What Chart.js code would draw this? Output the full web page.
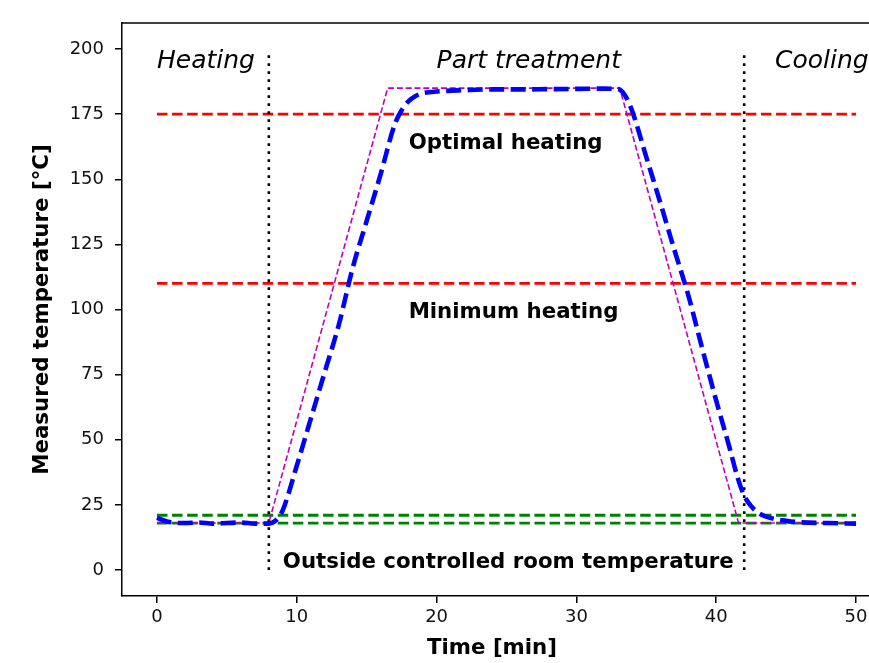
<!DOCTYPE html>
<html>
<head>
<meta charset="utf-8">
<script src="https://cdn.jsdelivr.net/npm/chart.js@4.4.1/dist/chart.umd.min.js"></script>
<style>
  html, body { margin: 0; padding: 0; overflow: hidden; background: #fff; }
  #wrap { position: relative; width: 900px; height: 663px; }
</style>
</head>
<body>
<div id="wrap"><canvas id="c"></canvas></div>
<script>
// ---- data ----
const xTicks = [0, 10, 20, 30, 40, 50];
const yTicks = [0, 25, 50, 75, 100, 125, 150, 175, 200];

const measuredX = [0, 0.5, 1, 2, 3, 4, 5, 6, 7, 8, 8.5, 9, 10, 11, 12, 13, 14, 15, 16, 17, 17.5, 18, 18.5, 19, 20, 22, 24, 26, 28, 30, 32, 33, 33.5, 34, 35, 36, 37, 38, 39, 40, 41, 41.5, 42, 42.5, 43, 44, 45, 46, 48, 50];
const measuredY = [20, 19, 18.3, 18, 18.2, 17.8, 18, 18.2, 17.8, 17.8, 19, 23, 40, 58, 76, 94, 116, 134, 152, 171, 176.5, 180, 182, 183, 183.7, 184.2, 184.5, 184.5, 184.6, 184.7, 184.8, 184.6, 182, 176, 158.5, 141, 123, 105.5, 85, 65, 46, 36, 28.5, 24.5, 22, 19.8, 18.9, 18.3, 18, 17.8];

const profileX = [0, 8, 16.5, 33.1, 41.6, 50];
const profileY = [18, 18, 185, 185, 18, 18];

const limitSpanX = [0, 50];
const optimalLevel = 175;
const minimumLevel = 110;
const roomLow = 18;
const roomHigh = 21;

const phaseBoundaries = [8, 42];
const boundarySpanY = [0, 198];

const phaseLabels = ['Heating', 'Part treatment', 'Cooling'];
const phaseLabelX = [0, 20, 44.2];
const phaseLabelY = 192.7;

const noteLabels = ['Optimal heating', 'Minimum heating', 'Outside controlled room temperature'];
const noteLabelX = [18, 18, 9];
const noteLabelY = [161.5, 96.8, 0.8];

const xTitle = 'Time [min]';
const yTitle = 'Measured temperature [°C]';

// ---- build ----
const pts = (xs, ys) => xs.map((x, i) => ({ x: x, y: ys[i] }));
const hline = (v) => limitSpanX.map(x => ({ x: x, y: v }));

const datasets = [
  { data: hline(roomLow), borderColor: '#008000', borderWidth: 2.8, borderDash: [10.5, 4.6], order: 6 },
  { data: hline(roomHigh), borderColor: '#008000', borderWidth: 2.8, borderDash: [10.5, 4.6], order: 6 },
  { data: hline(optimalLevel), borderColor: '#ff0000', borderWidth: 2.8, borderDash: [10.5, 4.6], order: 5 },
  { data: hline(minimumLevel), borderColor: '#ff0000', borderWidth: 2.8, borderDash: [10.5, 4.6], order: 5 },
  ...phaseBoundaries.map(b => ({ data: boundarySpanY.map(y => ({ x: b, y: y })), borderColor: '#000', borderWidth: 2.6, borderDash: [2.6, 5.4], order: 4 })),
  { data: pts(profileX, profileY), borderColor: '#bf00bf', borderWidth: 1.6, borderDash: [6, 2.8], order: 2 },
  { data: pts(measuredX, measuredY), borderColor: '#0000ff', borderWidth: 4.6, borderDash: [15, 6.5], cubicInterpolationMode: 'monotone', order: 1 }
];
datasets.forEach(d => { d.pointRadius = 0; d.fill = false; if (!d.cubicInterpolationMode) d.tension = 0; });

const textPlugin = {
  id: 'texts',
  afterDraw(chart) {
    const ctx = chart.ctx;
    const xs = chart.scales.x, ys = chart.scales.y;
    const a = chart.chartArea;
    ctx.save();
    // top & right spines
    ctx.strokeStyle = '#000';
    ctx.lineWidth = 1.5;
    ctx.beginPath();
    ctx.moveTo(a.left, a.top); ctx.lineTo(a.right, a.top); ctx.lineTo(a.right, a.bottom);
    ctx.stroke();

    ctx.fillStyle = '#000';
    ctx.textBaseline = 'alphabetic';
    ctx.textAlign = 'left';
    ctx.font = 'italic 25px "DejaVu Sans"';
    phaseLabels.forEach((t, i) => ctx.fillText(t, xs.getPixelForValue(phaseLabelX[i]), ys.getPixelForValue(phaseLabelY)));
    ctx.font = 'bold 21.3px "DejaVu Sans"';
    noteLabels.forEach((t, i) => ctx.fillText(t, xs.getPixelForValue(noteLabelX[i]), ys.getPixelForValue(noteLabelY[i])));

    // axis titles
    ctx.textAlign = 'center';
    ctx.textBaseline = 'middle';
    ctx.font = 'bold 21.3px "DejaVu Sans"';
    ctx.fillText(xTitle, 492, 648);
    ctx.translate(42, (a.top + a.bottom) / 2);
    ctx.rotate(-Math.PI / 2);
    ctx.fillText(yTitle, 0, 0);
    ctx.restore();
  }
};

new Chart(document.getElementById('c'), {
  type: 'line',
  data: { datasets: datasets },
  options: {
    responsive: true,
    maintainAspectRatio: false,
    animation: false,
    events: [],
    layout: { padding: { top: 23, right: 9, left: 0, bottom: 0 } },
    plugins: { legend: { display: false }, tooltip: { enabled: false } },
    scales: {
      x: {
        type: 'linear', min: -2.5, max: 52.5,
        afterBuildTicks: s => { s.ticks = xTicks.map(v => ({ value: v })); },
        afterFit: s => { s.height = 67; },
        ticks: { autoSkip: false, maxRotation: 0, padding: 4, color: '#111', font: { family: 'DejaVu Sans', size: 18 } },
        grid: { drawOnChartArea: false, drawTicks: true, tickLength: 7, color: '#000', lineWidth: 1.5 },
        border: { display: true, color: '#000', width: 1.5 }
      },
      y: {
        type: 'linear', min: -10, max: 210,
        afterBuildTicks: s => { s.ticks = yTicks.map(v => ({ value: v })); },
        afterFit: s => { s.width = 122; },
        ticks: { autoSkip: false, padding: 11, color: '#111', font: { family: 'DejaVu Sans', size: 18 } },
        grid: { drawOnChartArea: false, drawTicks: true, tickLength: 7, color: '#000', lineWidth: 1.5 },
        border: { display: true, color: '#000', width: 1.5 }
      }
    }
  },
  plugins: [textPlugin]
});
</script>
</body>
</html>
